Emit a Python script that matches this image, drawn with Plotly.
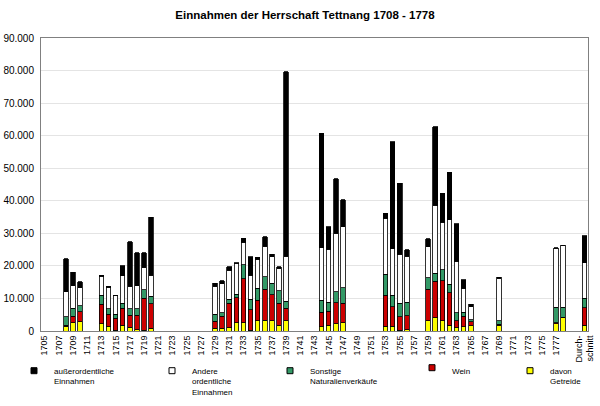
import plotly.graph_objects as go

# ---- categories ----
years = list(range(1705, 1779))
categories = [str(y) for y in years] + ["", " ", "Durch-<br>schnitt"]

# ---- data (in Gulden) ----
data_years = [1708, 1709, 1710, 1713, 1714, 1715, 1716, 1717, 1718, 1719, 1720,
              1729, 1730, 1731, 1732, 1733, 1734, 1735, 1736, 1737, 1738, 1739,
              1744, 1745, 1746, 1747, 1753, 1754, 1755, 1756,
              1759, 1760, 1761, 1762, 1763, 1764, 1765, 1769, 1777, 1778]

getreide = [1500, 2600, 2800, 2200, 1500, 200, 1800, 1100, 400, 200, 800,
            900, 800, 1000, 2600, 2600, 300, 3100, 3300, 3200, 1800, 3100,
            1300, 1800, 2300, 2600, 1500, 1500, 300, 400,
            3100, 4100, 3100, 1800, 1000, 1300, 1600, 1800, 2300, 4100]
wein = [300, 2000, 3100, 6000, 3700, 3700, 5200, 3800, 4400, 9800, 7500,
        2100, 3700, 7600, 7600, 13500, 6300, 6400, 9500, 7900, 6700, 3900,
        4400, 4300, 6400, 5900, 9500, 5900, 4100, 4300,
        9800, 11200, 12400, 10000, 2200, 3200, 1200, 300, 200, 100]
sonstige = [2600, 2400, 1900, 2800, 1600, 1300, 1600, 2000, 2100, 2700, 2300,
            2100, 1100, 1200, 1100, 4300, 3200, 3700, 3900, 3600, 3900, 2200,
            3800, 2700, 3400, 4800, 6500, 3600, 4100, 4100,
            3500, 2500, 3300, 2600, 2400, 1300, 700, 1000, 4800, 3100]
andere = [7700, 6900, 5500, 5800, 6700, 5600, 8300, 6800, 7000, 6900, 6600,
          8700, 8900, 8800, 9500, 6900, 7300, 8900, 9400, 8100, 6900, 13800,
          16100, 16300, 17900, 18800, 17100, 14200, 15100, 14200,
          9500, 20900, 14600, 19800, 15800, 7300, 4000, 13100, 18100, 19100]
ausserord = [10100, 4100, 1900, 400, 300, 200, 3200, 13700, 10200, 4500, 17800,
             900, 900, 1200, 200, 1200, 5700, 500, 2900, 800, 500, 56700,
             35200, 7000, 16800, 8200, 1600, 33000, 21800, 1900,
             2400, 24100, 8900, 14600, 11600, 2600, 700, 300, 200, 0]

# average column
avg_getreide = 1800
avg_wein = 5400
avg_sonstige = 2800
avg_andere = 11000
avg_ausserord = 8300

series_names = ["davon<br>Getreide", "Wein", "Sonstige<br>Naturalienverkäufe",
                "Andere<br>ordentliche<br>Einnahmen", "außerordentliche<br>Einnahmen"]
series_colors = ["#FFFF00", "#CC0000", "#339966", "#FFFFFF", "#000000"]


def full(series, avg):
    vals = [None] * len(categories)
    for yr, v in zip(data_years, series):
        vals[yr - years[0]] = v
    vals[-1] = avg
    return vals


series_values = [full(getreide, avg_getreide), full(wein, avg_wein),
                 full(sonstige, avg_sonstige), full(andere, avg_andere),
                 full(ausserord, avg_ausserord)]

x = list(range(len(categories)))
tick_idx = [i for i in range(0, len(years), 2)] + [len(categories) - 1]
tick_txt = [categories[i] for i in tick_idx]

fig = go.Figure()
for name, col, vals in zip(series_names, series_colors, series_values):
    fig.add_trace(go.Bar(x=x, y=vals, name=name,
                         marker=dict(color=col, line=dict(color="#000000", width=0.8)),
                         showlegend=False))

# legend entries (small square markers), one legend each for free placement
legend_px = [14, 152, 270, 412, 510]   # left edge of each legend box in pixels
legend_top = [359, 359, 359, 356, 359]  # top of each legend box in pixels
order = [4, 3, 2, 1, 0]
L, R, T, B = 41, 12, 38, 75
W, H = 600, 406
pw = W - L - R
ph = H - T - B
for k, si in enumerate(order):
    lg = "legend" if k == 0 else f"legend{k+1}"
    fig.add_trace(go.Scatter(x=[None], y=[None], mode="markers", name=series_names[si],
                             marker=dict(symbol="square", size=6, color=series_colors[si],
                                         line=dict(color="#000000", width=1)),
                             legend=lg, showlegend=True))
    fig.update_layout(**{lg: dict(x=(legend_px[k] - L) / pw, y=(T + ph - legend_top[k]) / ph,
                                  xanchor="left", yanchor="top", orientation="v",
                                  bgcolor="rgba(0,0,0,0)", valign="top", itemwidth=30,
                                  font=dict(family="Liberation Sans, Arial", size=8, color="#000000"))})

fig.update_layout(
    width=W, height=H, autosize=False,
    margin=dict(l=L, r=R, t=T, b=B, pad=0, autoexpand=False),
    barmode="stack", bargap=0.36,
    separators=",.",
    paper_bgcolor="#FFFFFF", plot_bgcolor="#FFFFFF",
    font=dict(family="Liberation Sans, Arial", color="#000000"),
    title=dict(text="<b>Einnahmen der Herrschaft Tettnang 1708 - 1778</b>",
               x=305 / W, xref="container", xanchor="center",
               y=1 - 15 / H, yref="container", yanchor="middle",
               font=dict(size=11.5, family="Liberation Sans, Arial", color="#000000")),
    xaxis=dict(range=[-0.5, len(categories) - 0.5], tickmode="array", tickvals=tick_idx,
               ticktext=tick_txt, tickangle=-90, tickfont=dict(size=9),
               showline=True, linecolor="#808080", linewidth=1, mirror=True,
               showgrid=False, zeroline=False, ticks="", automargin=False),
    yaxis=dict(range=[0, 90000], dtick=10000, tickformat=",.0f", tickfont=dict(size=10),
               showline=True, linecolor="#808080", linewidth=1, mirror=True,
               showgrid=True, gridcolor="#E4E4E4", gridwidth=1, zeroline=False, ticks="",
               ticklabelstandoff=4, automargin=False),
)

fig.write_html("out.html", config={"displayModeBar": False},
               post_script="document.body.style.margin='0';document.body.style.overflow='hidden';")
